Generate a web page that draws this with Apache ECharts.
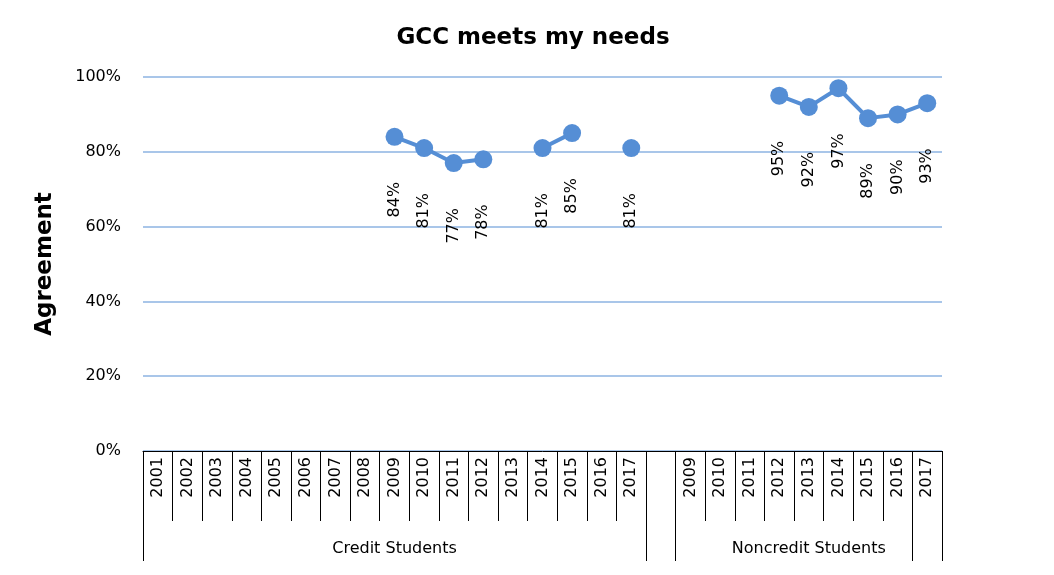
<!DOCTYPE html>
<html><head><meta charset="utf-8">
<script src="https://cdn.jsdelivr.net/npm/echarts@6/dist/echarts.min.js"></script>
<style>html,body{margin:0;background:#fff}#c{width:1054px;height:575px}</style>
</head><body><div id="c"></div>
<script>
// 分类：Credit 2001-2017，一个空位，Noncredit 2009-2017
var creditYears = ['2001','2002','2003','2004','2005','2006','2007','2008','2009','2010','2011','2012','2013','2014','2015','2016','2017'];
var noncreditYears = ['2009','2010','2011','2012','2013','2014','2015','2016','2017'];
var creditValues = [null,null,null,null,null,null,null,null,84,81,77,78,null,81,85,null,81];
var noncreditValues = [null,null,null,95,92,97,89,90,93];
var groups = ['Credit Students', 'Noncredit Students'];

var categories = creditYears.concat(['']).concat(noncreditYears);
var values = creditValues.concat([null]).concat(noncreditValues);
var groupLabels = categories.map(function (c, i) {
  if (i === 8) return groups[0];
  if (i === 22) return groups[1];
  return '';
});
var font = 'DejaVu Sans';

var chart = echarts.init(document.getElementById('c'));
chart.setOption({
  textStyle: { fontFamily: font },
  title: {
    text: 'GCC meets my needs', left: 528, top: 22, textAlign: 'center',
    textStyle: { fontFamily: font, fontSize: 23, fontWeight: 'bold', color: '#000' }
  },
  grid: { left: 143, right: 112, top: 77, bottom: 124 },
  xAxis: [{
    type: 'category', data: categories, boundaryGap: true,
    axisLine: { show: true, lineStyle: { color: '#000' } },
    axisTick: { show: true, interval: 0, inside: false, length: 70, lineStyle: { color: '#000' } },
    axisLabel: { interval: 0, rotate: 90, fontSize: 16, color: '#000', margin: 6, fontFamily: font }
  }, {
    type: 'category', data: groupLabels, position: 'bottom', boundaryGap: true,
    axisLine: { show: false },
    axisTick: { show: true, inside: false, interval: function (i) { return i === 0 || i === 17 || i === 18 || i === 26; }, length: 110, lineStyle: { color: '#000' } },
    axisLabel: { interval: 0, fontSize: 16, color: '#000', margin: 90, fontFamily: font }
  }],
  yAxis: {
    type: 'value', min: 0, max: 100, interval: 20,
    name: 'Agreement', nameLocation: 'middle', nameGap: 86, nameRotate: 90,
    nameTextStyle: { fontSize: 23, fontWeight: 'bold', color: '#000', fontFamily: font },
    axisLine: { show: false }, axisTick: { show: false },
    axisLabel: { formatter: '{value}%', fontSize: 16, color: '#000', margin: 22, fontFamily: font },
    splitLine: { lineStyle: { color: '#8db3e2', width: 1.5 } }
  },
  series: [{
    type: 'line', data: values, xAxisIndex: 0,
    symbol: 'circle', symbolSize: 18,
    lineStyle: { color: '#558ed5', width: 4 },
    itemStyle: { color: '#558ed5' },
    label: {
      show: true, position: 'bottom', rotate: 90, align: 'right', verticalAlign: 'middle',
      distance: 36, formatter: '{c}%', fontSize: 16, color: '#000', fontFamily: font
    }
  }]
});
</script></body></html>
